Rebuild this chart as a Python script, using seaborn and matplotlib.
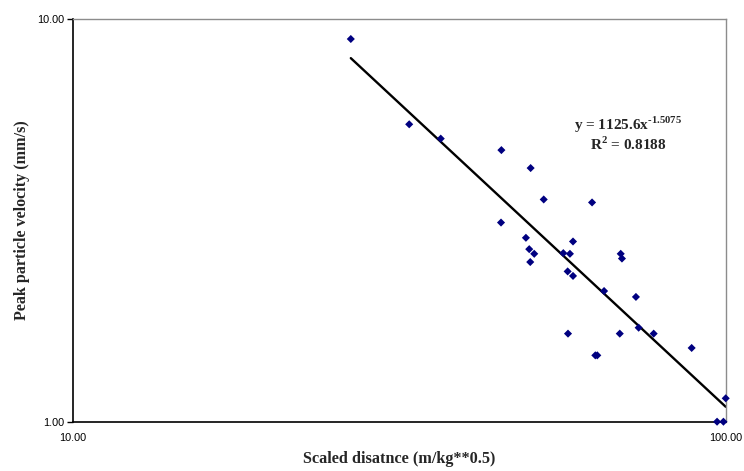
import numpy as np
import pandas as pd
import matplotlib
matplotlib.use("Agg")
import matplotlib.pyplot as plt
from matplotlib.ticker import FixedLocator, FixedFormatter, NullLocator
import seaborn as sns

# ---- data ----
scaled_distance = [26.65, 32.74, 36.59, 45.31, 50.23, 52.6, 62.37, 45.25, 49.4, 58.32,
                   49.98, 50.87, 56.36, 57.69, 50.16, 69.0, 69.3, 57.23, 58.32, 65.07,
                   72.8, 57.3, 68.77, 73.5, 77.5, 88.6, 63.09, 63.53, 99.9, 96.9, 99.1]
ppv = [8.905, 5.47, 5.04, 4.72, 4.26, 3.56, 3.50, 3.12, 2.86, 2.80,
       2.68, 2.61, 2.62, 2.61, 2.49, 2.61, 2.54, 2.36, 2.30, 2.11,
       2.04, 1.654, 1.654, 1.711, 1.654, 1.524, 1.461, 1.461, 1.143, 1.0, 1.0]
fit_coef = 1125.6
fit_exp = -1.5075
r_squared = 0.8188
x_ticks = [10, 100]
x_tick_labels = ["10.00", "100.00"]
y_ticks = [1, 10]
y_tick_labels = ["1.00", "10.00"]

df = pd.DataFrame({"x": scaled_distance, "y": ppv})
xs = np.geomspace(min(scaled_distance), max(scaled_distance), 100)
fit_df = pd.DataFrame({"x": xs, "y": fit_coef * xs ** fit_exp})

sns.set_theme(style="white")
plt.rcParams["font.family"] = ["Liberation Sans", "DejaVu Sans"]
plt.rcParams["mathtext.fontset"] = "custom"
plt.rcParams["mathtext.rm"] = "Liberation Serif:bold"
plt.rcParams["mathtext.bf"] = "Liberation Serif:bold"

fig = plt.figure(figsize=(7.44, 4.71), dpi=100)
ax = fig.add_axes([72.7 / 744, (471 - 421.7) / 471, (726 - 72.7) / 744, (421.7 - 18.7) / 471])

sns.lineplot(data=fit_df, x="x", y="y", ax=ax, color="black", linewidth=1.7, zorder=2)
sns.scatterplot(data=df, x="x", y="y", ax=ax, marker="D", s=17, color="#000080",
                edgecolor="none", linewidth=0, zorder=3, clip_on=False)

ax.set_xscale("log")
ax.set_yscale("log")
ax.set_xlim(10, 100)
ax.set_ylim(1, 10)

ax.xaxis.set_major_locator(FixedLocator(x_ticks))
ax.xaxis.set_major_formatter(FixedFormatter(x_tick_labels))
ax.xaxis.set_minor_locator(NullLocator())
ax.yaxis.set_major_locator(FixedLocator(y_ticks))
ax.yaxis.set_major_formatter(FixedFormatter(y_tick_labels))
ax.yaxis.set_minor_locator(NullLocator())

ax.tick_params(axis="x", length=0, pad=8, labelsize=7.8, colors="black")
ax.tick_params(axis="y", length=4, width=1, pad=2, labelsize=7.8, colors="black", direction="out", left=True)

for side in ["left", "bottom"]:
    ax.spines[side].set_color("black")
    ax.spines[side].set_linewidth(1.2)
for side in ["top", "right"]:
    ax.spines[side].set_color("#8c8c8c")
    ax.spines[side].set_linewidth(1.0)

ax.set_xlabel("Scaled disatnce (m/kg**0.5)", family=["Liberation Serif"], fontweight="bold",
              fontsize=11.7, labelpad=6)
ax.set_ylabel("Peak particle velocity (mm/s)", family=["Liberation Serif"], fontweight="bold",
              fontsize=11.6, labelpad=5)

ax.text(628 / 744, 1 - 130 / 471, r"y = 1125.6x$^{\text{-}1.5075}$", transform=fig.transFigure,
        ha="center", va="baseline", fontsize=11, family=["Liberation Serif"], fontweight="bold")
ax.text(628 / 744, 1 - 150.5 / 471, r"R$^{2}$ = 0.8188", transform=fig.transFigure,
        ha="center", va="baseline", fontsize=11, family=["Liberation Serif"], fontweight="bold")

fig.savefig("out.png", dpi=100, facecolor="white")
